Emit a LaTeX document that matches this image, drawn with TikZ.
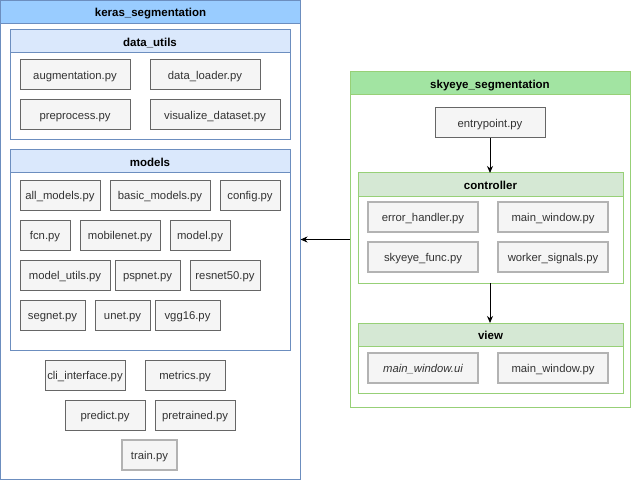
\documentclass[tikz,border=0pt]{standalone}
\usepackage{fontspec}
\setmainfont{Liberation Sans}
\usetikzlibrary{arrows.meta}
\definecolor{kerasHead}{HTML}{99CCFF}
\definecolor{blueLine}{HTML}{6C8EBF}
\definecolor{blueSub}{HTML}{DAE8FC}
\definecolor{skyHead}{HTML}{A2E4A2}
\definecolor{greenLine}{HTML}{97D077}
\definecolor{greenSub}{HTML}{D5E8D4}
\definecolor{fileFill}{HTML}{F5F5F5}
\definecolor{fileLine}{HTML}{666666}
\definecolor{lightLine}{HTML}{B3B3B3}
\definecolor{fileText}{HTML}{333333}
\tikzset{
	pyfile/.style={draw=fileLine, fill=fileFill, text=fileText, line width=1pt, minimum height=30pt, inner sep=0pt, outer sep=0pt, text height=9.5pt, text depth=0pt, font=\fontsize{11.3}{14}\selectfont},
	pyfilelight/.style={pyfile, draw=lightLine, line width=2pt},
	pkgbox/.style={draw, line width=1pt, fill=white, inner sep=0pt, outer sep=0pt, anchor=north west},
	pkghead/.style={draw, line width=1pt, inner sep=0pt, outer sep=0pt, anchor=north west, minimum height=23pt, text height=9.5pt, text depth=0pt, font=\fontsize{11.5}{14}\selectfont\bfseries},
	depend/.style={-{Stealth[length=7pt,width=6pt]}, line width=1pt}
}

\begin{document}
\begin{tikzpicture}[x=1pt,y=-1pt]
			%%%%% START %%%%%
			\useasboundingbox (0,0) rectangle (631,481);
			
			% keras_segmentation
			\node[pkgbox, draw=blueLine, minimum width=300pt, minimum height=479pt] (keras) at (0.5,0.5) {};
			\node[pkghead, draw=blueLine, fill=kerasHead, minimum width=300pt] (kerasHead) at (keras.north west) {keras\_segmentation};
			
			\node[pkgbox, draw=blueLine, minimum width=280pt, minimum height=110pt] (dutils) at (10,30) {};
			\node[pkghead, draw=blueLine, fill=blueSub, minimum width=280pt] (dutilsHead) at (dutils.north west) {data\_utils};
			\node[pyfile, minimum width=110pt] (augm) at (75,75) {augmentation.py};
			\node[pyfile, minimum width=110pt] (dloader) at (205,75) {data\_loader.py};
			\node[pyfile, minimum width=110pt] (prep) at (75,115) {preprocess.py};
			\node[pyfile, minimum width=130pt] (visual) at (215,115) {visualize\_dataset.py};
			
			\node[pkgbox, draw=blueLine, minimum width=280pt, minimum height=200pt] (models) at (10,150) {};
			\node[pkghead, draw=blueLine, fill=blueSub, minimum width=280pt] (modelsHead) at (models.north west) {models};
			\node[pyfile, minimum width=80pt] (allm) at (60,195) {all\_models.py};
			\node[pyfile, minimum width=100pt] (basic) at (160,195) {basic\_models.py};
			\node[pyfile, minimum width=60pt] (config) at (250,195) {config.py};
			\node[pyfile, minimum width=50pt] (fcn) at (45,235) {fcn.py};
			\node[pyfile, minimum width=80pt] (mobile) at (120,235) {mobilenet.py};
			\node[pyfile, minimum width=60pt] (model) at (200,235) {model.py};
			\node[pyfile, minimum width=90pt] (mutils) at (65,275) {model\_utils.py};
			\node[pyfile, minimum width=65pt] (pspnet) at (147.5,275) {pspnet.py};
			\node[pyfile, minimum width=70pt] (resnet) at (225,275) {resnet50.py};
			\node[pyfile, minimum width=65pt] (segnet) at (52.5,315) {segnet.py};
			\node[pyfile, minimum width=55pt] (unet) at (122.5,315) {unet.py};
			\node[pyfile, minimum width=65pt] (vgg) at (187.5,315) {vgg16.py};
			
			\node[pyfile, minimum width=80pt] (cli) at (85,375) {cli\_interface.py};
			\node[pyfile, minimum width=80pt] (metrics) at (185,375) {metrics.py};
			\node[pyfile, minimum width=80pt] (predict) at (105,415) {predict.py};
			\node[pyfile, minimum width=80pt] (pretrained) at (195,415) {pretrained.py};
			\node[pyfilelight, minimum width=55pt] (train) at (149.5,455) {train.py};
			
			% skyeye_segmentation
			\node[pkgbox, draw=greenLine, minimum width=280pt, minimum height=335pt] (skyeye) at (350,72) {};
			\node[pkghead, draw=greenLine, fill=skyHead, minimum width=280pt] (skyeyeHead) at (skyeye.north west) {skyeye\_segmentation};
			\node[pyfile, minimum width=110pt] (entry) at (490,123) {entrypoint.py};
			
			\node[pkgbox, draw=greenLine, minimum width=265pt, minimum height=110pt] (ctrl) at (358,173) {};
			\node[pkghead, draw=greenLine, fill=greenSub, minimum width=265pt] (ctrlHead) at (ctrl.north west) {controller};
			\node[pyfilelight, minimum width=110pt] (errh) at (423,217) {error\_handler.py};
			\node[pyfilelight, minimum width=110pt] (mainwin) at (553,217) {main\_window.py};
			\node[pyfilelight, minimum width=110pt] (skyfunc) at (423,257) {skyeye\_func.py};
			\node[pyfilelight, minimum width=110pt] (worker) at (553,257) {worker\_signals.py};
			
			\node[pkgbox, draw=greenLine, minimum width=265pt, minimum height=70pt] (view) at (358,323) {};
			\node[pkghead, draw=greenLine, fill=greenSub, minimum width=265pt] (viewHead) at (view.north west) {view};
			\node[pyfilelight, minimum width=110pt, font=\fontsize{11.3}{14}\selectfont\itshape] (mwui) at (423,368) {main\_window.ui};
			\node[pyfilelight, minimum width=110pt] (mwpy) at (553,368) {main\_window.py};
			
			% dependencies
			\draw[depend] (entry.south) -- (entry.south |- ctrl.north);
			\draw[depend] (ctrl.south -| entry.south) -- (entry.south |- view.north);
			\draw[depend] (skyeye.west) -- (keras.east |- skyeye.west);
			
			%%%%% END %%%%%
\end{tikzpicture}
\end{document}
